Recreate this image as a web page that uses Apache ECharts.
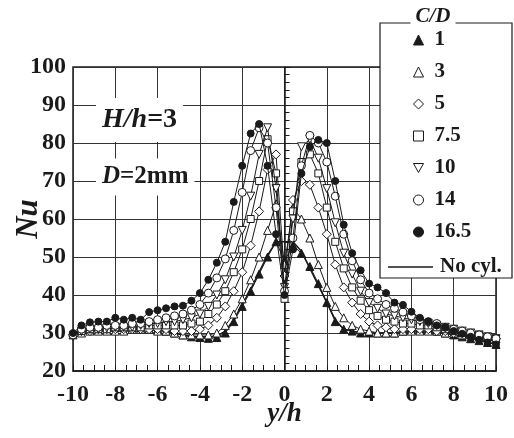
<!DOCTYPE html>
<html><head><meta charset="utf-8">
<script src="https://cdn.jsdelivr.net/npm/echarts@6/dist/echarts.min.js"></script>
<style>html,body{margin:0;padding:0;background:#fff}#c{width:514px;height:438px}</style>
</head><body><div id="c"></div>
<script>
const xs = [-10,-9.6,-9.2,-8.8,-8.4,-8,-7.6,-7.2,-6.8,-6.4,-6,-5.6,-5.2,-4.8,-4.4,-4,-3.6,-3.2,-2.8,-2.4,-2,-1.6,-1.2,-0.8,-0.4,0,0.4,0.8,1.2,1.6,2,2.4,2.8,3.2,3.6,4,4.4,4.8,5.2,5.6,6,6.4,6.8,7.2,7.6,8,8.4,8.8,9.2,9.6,10];
const cd1 = [30,31,31.5,31.5,31.5,31.5,31.5,31.5,31.5,31,31, 30.5,30,29.5,29,28.8,28.6,28.8,30,33,37, 41,45.5,50,54,49,53,51,47.5,43,38, 33,31,30.5,30,30,30,30,30,30.5,31, 31,31,30.5,30,29.5,29,28.5,28,27.5,27];
const cd3 = [29.5,30,30.5,30.5,30.5,30.5,30.5,31,31,31,30.5, 30.5,30,29.5,29.5,29.5,29.5,30,32,35,39, 44,50,57,64,48,63,60,55,48,42, 37,34,32,31,30.5,30,30,30,30.5,30.5, 30.5,30.5,30.5,30,30,29.5,29.5,29,29,28.5];
const cd5 = [29.5,30.5,30.5,31,31,31,31,31,31,31,31, 31,30.5,30.5,30.5,31,32,34,37,41,46, 53,62,73,77,45,65,70,69,63,56, 48,42,38,35,33,32,31.5,31,31,31, 31,31,30.5,30.5,30,30,29.5,29,29,28.5];
const cd75 = [29.5,30.5,31,31,31,31.5,31.5,31.5,31.5,32,32, 32,32,32,32.5,33,35,37.5,41,46,52, 60,70,81,72,39,62,75,77,72,63, 54,47,42,38.5,36,34.5,33.5,33,32.5,32.5, 32,32,31.5,31,30.5,30,29.5,29.3,29,28.5];
const cd10 = [29,30.5,31,31,31.3,31.5,31.5,31.5,32,32.5,32.5, 33,33,33.5,34,35,37,40,44,50,57, 66,77,84,68,42,60,79,81,76,68, 59,51,45.5,41,38,36.5,35,34.5,34,33.5, 33,32.5,32,31.5,31,30.5,30,29.5,29,28.5];
const cd14 = [29.5,31,31.5,31.5,32,32,32,32.5,32.5,33,33.5, 34,34.5,35,36,37.5,40.5,44.5,49.5,57,67, 78,84,80,63,41,55,74,82,80,75, 66,56,49,44,40.5,39,37.5,36.5,35.5,34.5, 33.5,33,32.5,31.5,31,30.5,30,29.5,29,28.5];
const cd165 = [30,32,32.8,33,33,34,33.5,34,33.5,35.5,36, 36.5,37,37.2,38.5,40.5,44,48.5,54,64.5,74, 82.5,85,74,56,40,52,72,79,80.8,80, 70,58.5,51,46.5,43,42,40.5,38,37.4,35.6, 34,33,32,31.5,30.5,29.8,29,28.2,27.5,27];
const noCyl = [30,30.5,31,31,31,31,31,31,31,31,30.8, 30.5,30,29.5,29,29,29,29.2,30.5,33.5,37.5, 41.5,46,50.5,54,54,54,51.5,47,42.5,38, 33.5,31,30.5,30,30,30,30,30,30,30.5, 30.5,30.5,30,30,29.5,29,29,28.5,28.5,28];
const xTicks = [-10,-8,-6,-4,-2,0,2,4,6,8,10];
const yTicks = [20,30,40,50,60,70,80,90,100];

const FONT = 'Liberation Serif';
const INK = '#1a1a1a';
const TRI_DOWN = 'path://M0,0 L10,0 L5,9 Z';
const defs = [
  {name:'1', arr:cd1, symbol:'triangle', fill:INK, size:8},
  {name:'3', arr:cd3, symbol:'triangle', fill:'#fff', size:8},
  {name:'5', arr:cd5, symbol:'diamond', fill:'#fff', size:9},
  {name:'7.5', arr:cd75, symbol:'rect', fill:'#fff', size:7},
  {name:'10', arr:cd10, symbol:TRI_DOWN, fill:'#fff', size:8},
  {name:'14', arr:cd14, symbol:'circle', fill:'#fff', size:8},
  {name:'16.5', arr:cd165, symbol:'circle', fill:INK, size:7}
];
const series = defs.map((d, k) => ({
  name: d.name, type: 'line', data: xs.map((x, i) => [x, d.arr[i]]),
  symbol: d.symbol, symbolSize: d.size, showAllSymbol: true,
  itemStyle: {color: d.fill, borderColor: INK, borderWidth: 1},
  lineStyle: {color: INK, width: 1}, z: 3 + k, animation: false
}));
series.unshift({
  name: 'No cyl.', type: 'line', data: xs.map((x, i) => [x, noCyl[i]]),
  symbol: 'none', itemStyle: {color: INK}, lineStyle: {color: INK, width: 1.5}, z: 2, animation: false
});

const chart = echarts.init(document.getElementById('c'));
chart.setOption({
  animation: false,
  backgroundColor: '#fff',
  grid: {left: 73, top: 67, right: 18, bottom: 67, outerBoundsMode: 'none', containLabel: false,
    show: true, borderColor: INK, borderWidth: 1.5, backgroundColor: 'transparent'},
  xAxis: {
    type: 'value', min: -10, max: 10, interval: 2,
    name: 'y/h', nameLocation: 'middle', nameGap: 30, nameMoveOverlap: false,
    nameTextStyle: {fontFamily: FONT, fontStyle: 'italic', fontWeight: 'bold', fontSize: 27, color: INK},
    axisLine: {lineStyle: {color: INK, width: 1.5}},
    axisTick: {inside: true, length: 6, lineStyle: {color: INK}},
    minorTick: {show: true, splitNumber: 4, length: 6, lineStyle: {color: INK}},
    splitLine: {show: true, lineStyle: {color: '#333', width: 1}},
    axisLabel: {margin: 12, fontFamily: FONT, fontWeight: 'bold', fontSize: 24, color: INK,
      formatter: v => xTicks.includes(v) ? String(v) : ''}
  },
  yAxis: {
    type: 'value', min: 20, max: 100, interval: 10,
    name: 'Nu', nameLocation: 'middle', nameGap: 29, nameRotate: 90, nameMoveOverlap: false,
    nameTextStyle: {fontFamily: FONT, fontStyle: 'italic', fontWeight: 'bold', fontSize: 31, color: INK},
    axisLine: {lineStyle: {color: INK, width: 1.5}},
    axisTick: {inside: true, length: 6, lineStyle: {color: INK}},
    minorTick: {show: true, splitNumber: 5, length: 5, lineStyle: {color: INK}},
    splitLine: {show: true, lineStyle: {color: '#333', width: 1}},
    axisLabel: {margin: 7, fontFamily: FONT, fontWeight: 'bold', fontSize: 24, color: INK,
      formatter: v => yTicks.includes(v) ? String(v) : ''}
  },
  legend: [
    {
      data: defs.map(d => ({name: d.name, icon: d.symbol})),
      orient: 'vertical', left: 408, top: 24, itemWidth: 10, itemHeight: 10, itemGap: 10,
      selectedMode: false, z: 10,
      itemStyle: {borderWidth: 1},
      textStyle: {fontFamily: FONT, fontWeight: 'bold', fontSize: 21, color: INK, lineHeight: 22, padding: [0, 0, 0, 6]}
    },
    {
      data: [{name: 'No cyl.', icon: 'rect'}], orient: 'vertical', left: 383, top: 251, itemWidth: 45, itemHeight: 1.6,
      selectedMode: false, z: 10,
      itemStyle: {color: INK, borderWidth: 0},
      textStyle: {fontFamily: FONT, fontWeight: 'bold', fontSize: 21, color: INK, lineHeight: 22, padding: [0, 0, 0, 2]}
    }
  ],
  graphic: [
    {type: 'rect', z: 8, shape: {x: 380, y: 23, width: 132, height: 255}, style: {fill: '#fff', stroke: INK, lineWidth: 1.2}},
    {type: 'text', z: 12, style: {text: 'C/D', x: 433, y: 17, align: 'center', verticalAlign: 'middle',
      font: 'italic bold 21px "Liberation Serif"', fill: INK, backgroundColor: '#fff', padding: [0, 5]}},
    {type: 'text', z: 12, style: {text: '{i|H/h}{n|=3}', x: 96, y: 120, align: 'left', verticalAlign: 'middle',
      backgroundColor: '#fff', padding: [8, 6],
      rich: {i: {fontFamily: FONT, fontStyle: 'italic', fontWeight: 'bold', fontSize: 28, fill: INK, color: INK},
             n: {fontFamily: FONT, fontWeight: 'bold', fontSize: 28, fill: INK, color: INK}}}},
    {type: 'text', z: 12, style: {text: '{i|D}{n|=2mm}', x: 96, y: 177, align: 'left', verticalAlign: 'middle',
      backgroundColor: '#fff', padding: [6, 6],
      rich: {i: {fontFamily: FONT, fontStyle: 'italic', fontWeight: 'bold', fontSize: 25, fill: INK, color: INK},
             n: {fontFamily: FONT, fontWeight: 'bold', fontSize: 25, fill: INK, color: INK}}}}
  ],
  series
});
</script></body></html>
